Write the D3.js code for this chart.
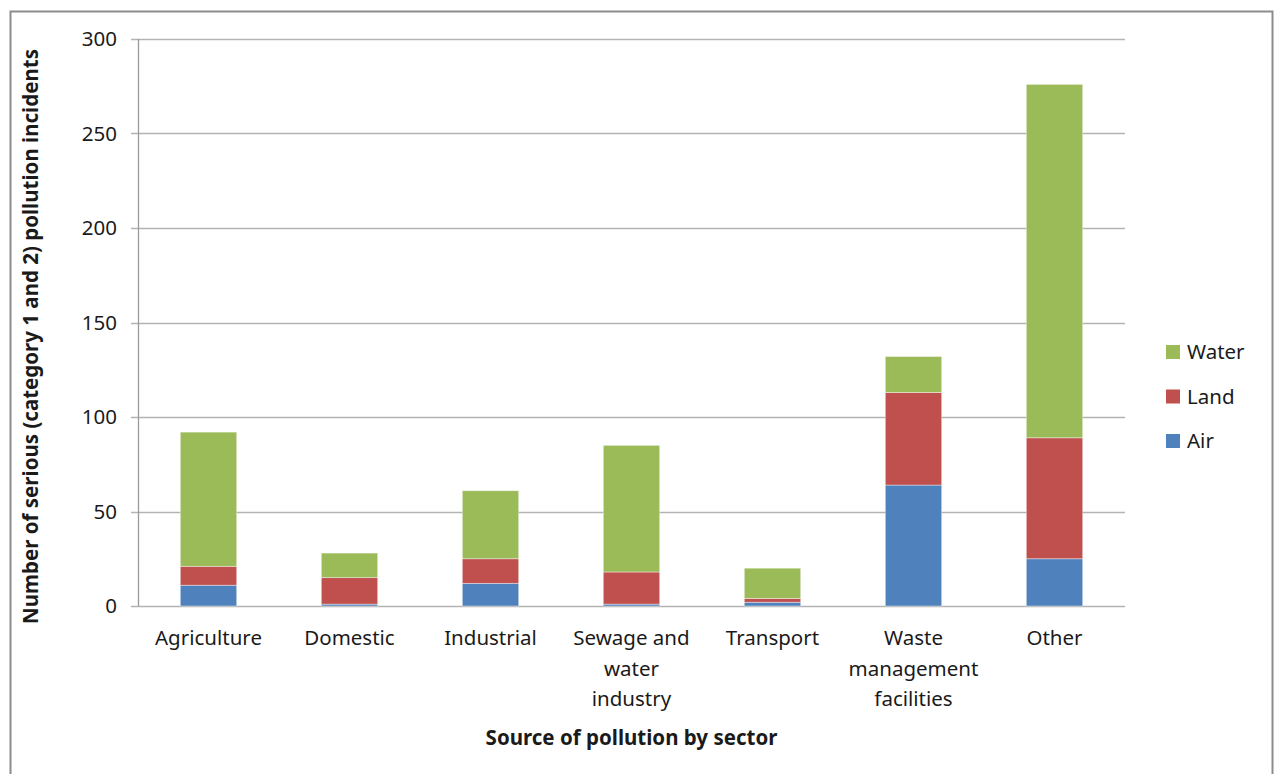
<!DOCTYPE html>
<html>
<head>
<meta charset="utf-8">
<script src="https://cdn.jsdelivr.net/npm/d3@7"></script>
<style>
  body { margin: 0; background: #fff; }
  text { font-family: "Noto Sans", sans-serif; fill: #1a1a1a; }
</style>
</head>
<body>
<div id="chart"></div>
<script>
const width = 1279;
const height = 774;
const margin = { top: 39, right: 154, bottom: 168, left: 138 };

// data
const sectors = [
  "Agriculture", "Domestic", "Industrial", "Sewage and water industry",
  "Transport", "Waste management facilities", "Other"
];
const sectorLines = [
  ["Agriculture"], ["Domestic"], ["Industrial"], ["Sewage and", "water", "industry"],
  ["Transport"], ["Waste", "management", "facilities"], ["Other"]
];
const air = [11, 1, 12, 1, 2, 64, 25];
const land = [10, 14, 13, 17, 2, 49, 64];
const water = [71, 13, 36, 67, 16, 19, 187];
const seriesNames = ["Air", "Land", "Water"];
const colors = { Air: "#4F81BD", Land: "#C0504D", Water: "#9BBB59" };
const yTicks = [0, 50, 100, 150, 200, 250, 300];

const rows = sectors.map((s, i) => ({ sector: s, Air: air[i], Land: land[i], Water: water[i] }));
const stacked = d3.stack().keys(seriesNames)(rows);

const svg = d3.select("#chart")
  .append("svg")
  .attr("width", width)
  .attr("height", height);

// outer frame
svg.append("rect")
  .attr("x", 10.5).attr("y", 11.5)
  .attr("width", 1262).attr("height", 800)
  .attr("fill", "none")
  .attr("stroke", "#8c8c8c")
  .attr("stroke-width", 2);

const x = d3.scaleBand()
  .domain(sectors)
  .range([margin.left, width - margin.right])
  .paddingInner(0.6)
  .paddingOuter(0.3);

const y = d3.scaleLinear()
  .domain([0, 300])
  .range([height - margin.bottom, margin.top]);

// gridlines
svg.append("g")
  .selectAll("line")
  .data(yTicks)
  .join("line")
    .attr("x1", margin.left - 7)
    .attr("x2", width - margin.right)
    .attr("y1", d => Math.round(y(d)) + 0.5)
    .attr("y2", d => Math.round(y(d)) + 0.5)
    .attr("stroke", "#b3b3b3")
    .attr("stroke-width", 1.3);

// y axis line
svg.append("line")
  .attr("x1", margin.left + 0.5).attr("x2", margin.left + 0.5)
  .attr("y1", y(300)).attr("y2", y(0))
  .attr("stroke", "#9a9a9a")
  .attr("stroke-width", 1.3);

svg.append("g")
  .selectAll("text")
  .data(yTicks)
  .join("text")
    .attr("x", 117)
    .attr("y", d => y(d))
    .attr("dy", "0.35em")
    .attr("text-anchor", "end")
    .attr("font-size", 20.5)
    .text(d => d);

// bars
svg.append("g")
  .selectAll("g")
  .data(stacked)
  .join("g")
    .attr("fill", d => colors[d.key])
  .selectAll("rect")
  .data(d => d)
  .join("rect")
    .attr("x", d => x(d.data.sector))
    .attr("y", d => y(d[1]))
    .attr("width", x.bandwidth())
    .attr("height", d => y(d[0]) - y(d[1]))
    .attr("stroke", "#ffffff")
    .attr("stroke-opacity", 0.5)
    .attr("stroke-width", 0.8);

// category labels
const cat = svg.append("g")
  .selectAll("text")
  .data(sectors)
  .join("text")
    .attr("x", d => x(d) + x.bandwidth() / 2)
    .attr("y", 645)
    .attr("text-anchor", "middle")
    .attr("font-size", 20.5);
cat.selectAll("tspan")
  .data((d, i) => sectorLines[i])
  .join("tspan")
    .attr("x", function() { return this.parentNode.getAttribute("x"); })
    .attr("dy", (d, i) => i === 0 ? 0 : 30.5)
    .text(d => d);

// axis titles
svg.append("text")
  .attr("x", (margin.left + width - margin.right) / 2)
  .attr("y", 745)
  .attr("text-anchor", "middle")
  .attr("font-size", 20.5)
  .attr("font-weight", "bold")
  .text("Source of pollution by sector");

svg.append("text")
  .attr("transform", `translate(38, ${(y(0) + y(300)) / 2 + 14}) rotate(-90)`)
  .attr("text-anchor", "middle")
  .attr("font-size", 20.5)
  .attr("font-weight", "bold")
  .text("Number of serious (category 1 and 2) pollution incidents");

// legend
const legend = svg.append("g")
  .selectAll("g")
  .data(["Water", "Land", "Air"])
  .join("g")
    .attr("transform", (d, i) => `translate(1166, ${352 + i * 44.5})`);
legend.append("rect")
  .attr("x", 0).attr("y", -7)
  .attr("width", 14).attr("height", 14)
  .attr("fill", d => colors[d]);
legend.append("text")
  .attr("x", 21)
  .attr("dy", "0.35em")
  .attr("font-size", 20.5)
  .text(d => d);
</script>
</body>
</html>
